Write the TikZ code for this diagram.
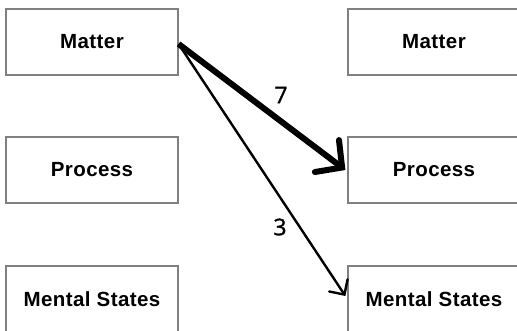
\documentclass[tikz,border=0pt]{standalone}
\usepackage{fontspec}
\setmainfont{Liberation Sans}[LetterSpace=2]
\newfontfamily\numfont{Open Sans}[FakeBold=1.2]
\usetikzlibrary{arrows.meta}
\begin{document}
\begin{tikzpicture}[x=1pt,y=-1pt,
  box/.style={draw=black!50,line width=1.2pt,fill=white,rectangle,minimum width=172pt,minimum height=66pt,inner sep=0pt,font=\fontsize{20.5}{24}\selectfont\bfseries},
  num/.style={font=\fontsize{23}{26}\selectfont\numfont,inner sep=0pt},
  thickarrow/.style={line width=6pt,-{Straight Barb[length=19pt,width=40pt,line width=6pt,line cap=round]}},
  thinarrow/.style={line width=2.4pt,-{Straight Barb[length=11pt,width=22pt,line width=2.4pt,line cap=round]}}]
\useasboundingbox (0,0) rectangle (517,330);
\clip (0,0) rectangle (517,330);
\node[box] (lm) at (92,42) {Matter};
\node[box] (lp) at (92,170) {Process};
\node[box] (ls) at (92,299) {Mental States};
\node[box] (rm) at (434,42) {Matter};
\node[box] (rp) at (434,170) {Process};
\node[box] (rs) at (434,299) {Mental States};
\coordinate (start) at ([yshift=-2pt]lm.east);
\draw[thickarrow] (start) -- ([xshift=-2pt]rp.west);
\draw[thinarrow] (start) -- ([xshift=-2pt,yshift=3pt]rs.west);
\node[num] (n7) at (281,95) {7};
\node[num] (n3) at (280,227) {3};
\end{tikzpicture}
\end{document}
